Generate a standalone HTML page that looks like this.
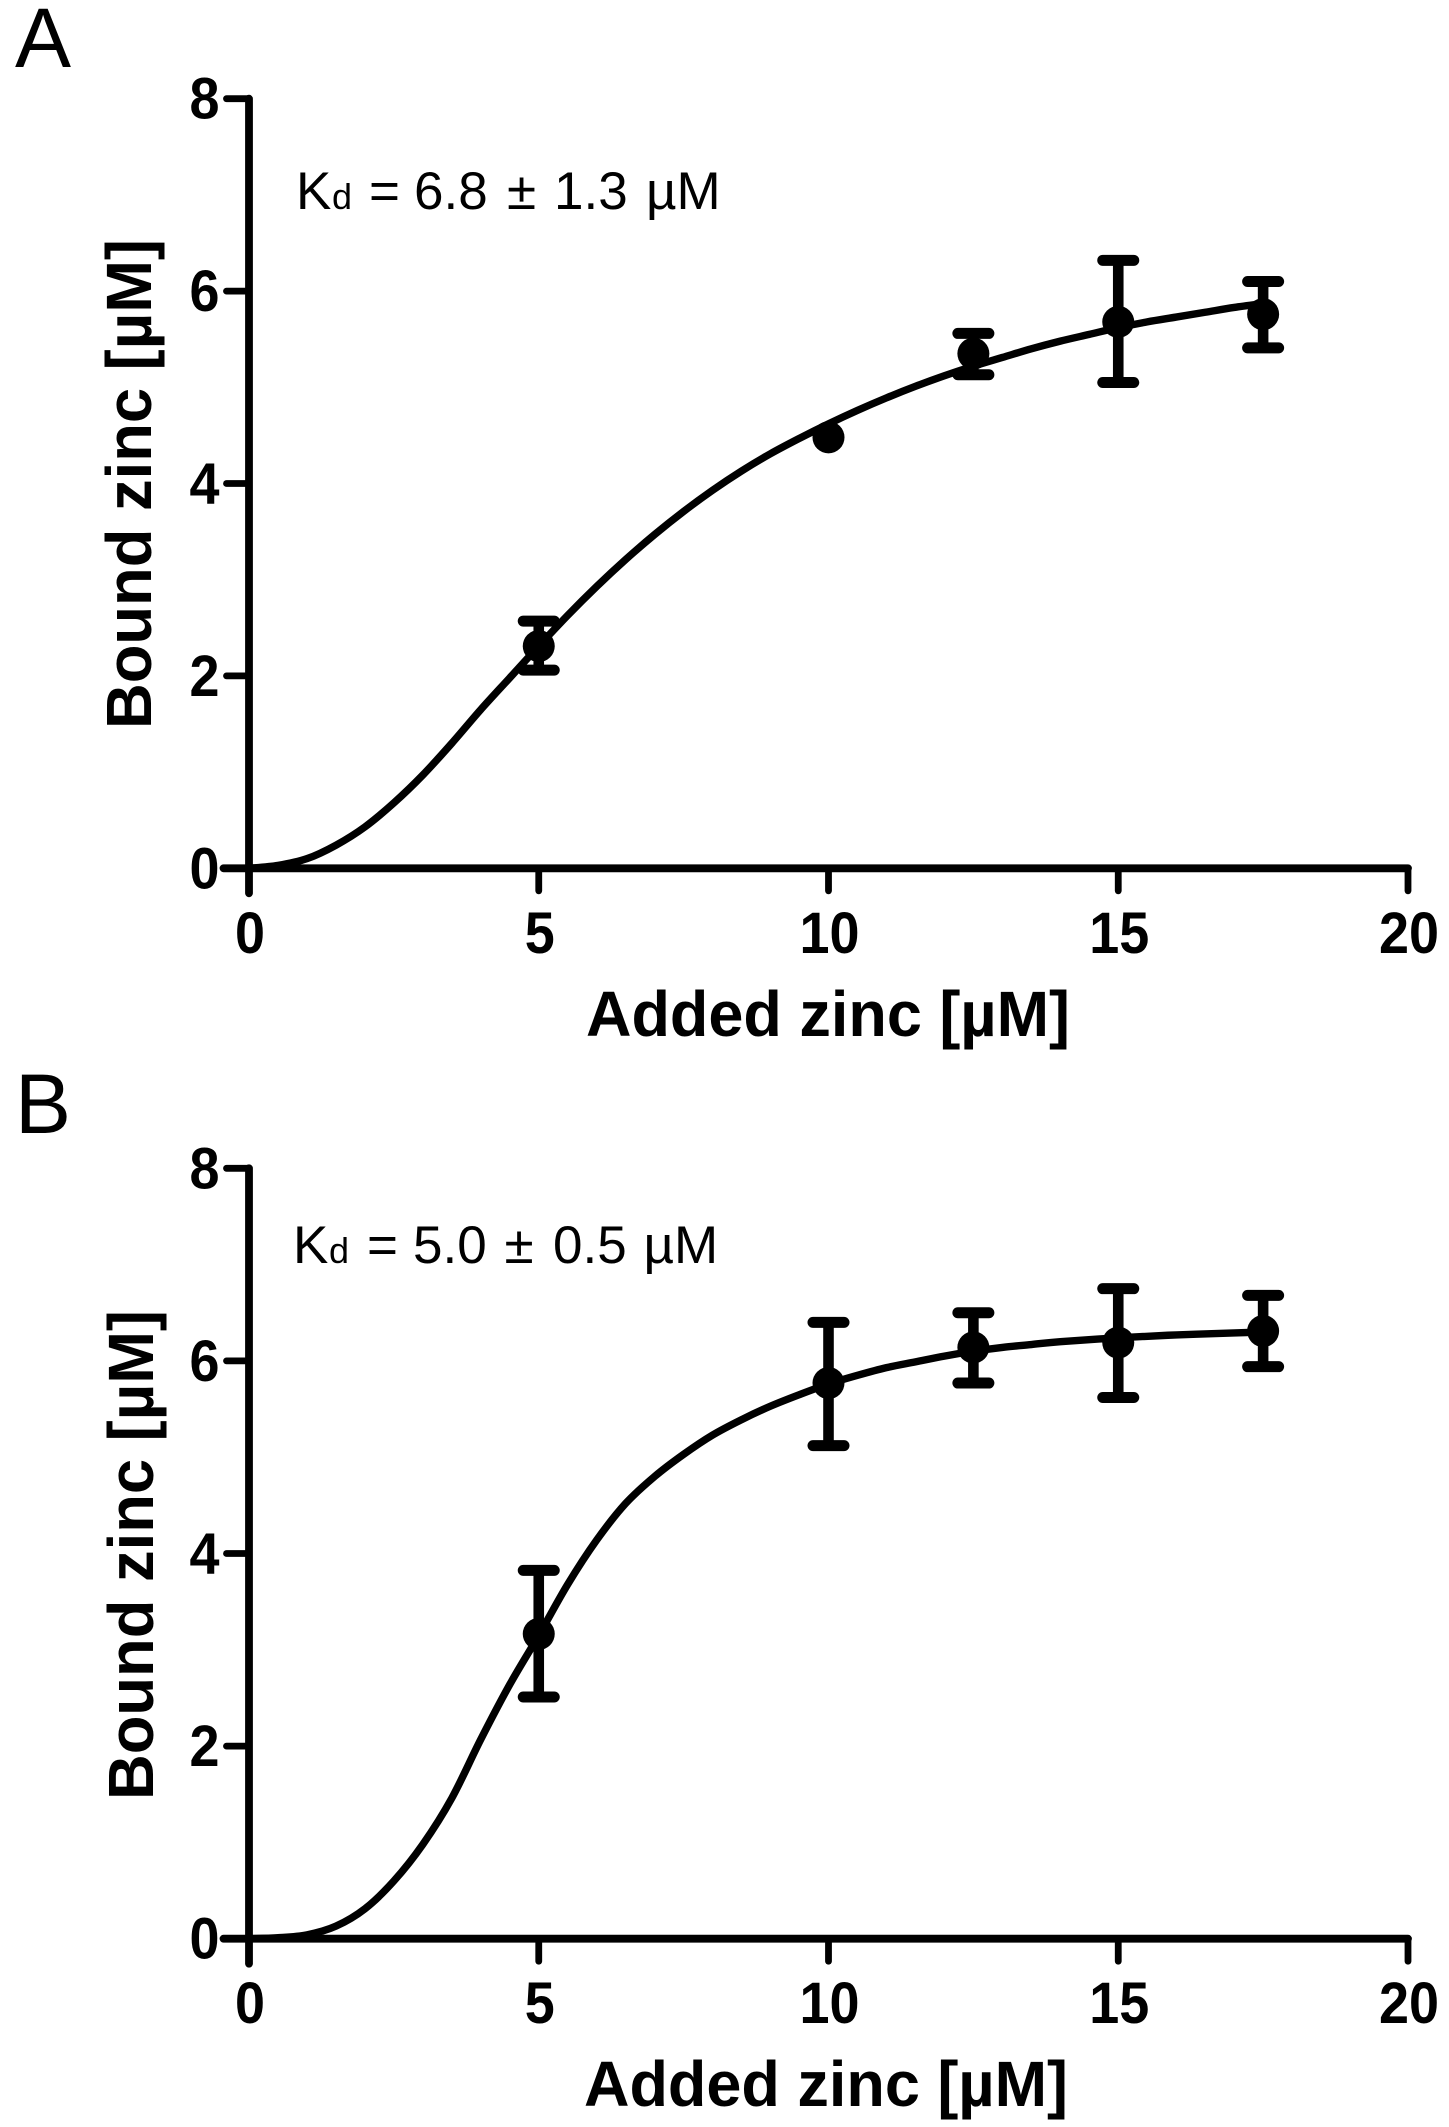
<!DOCTYPE html>
<html lang="en">
<head>
<meta charset="utf-8">
<title>Bound zinc vs added zinc</title>
<style>
html,body{margin:0;padding:0;background:#fff;}
svg{display:block;}
text{font-family:"Liberation Sans",Arial,sans-serif;fill:#000;}
.bold{font-weight:700;}
</style>
</head>
<body>
<svg id="chart" xmlns="http://www.w3.org/2000/svg" width="1449" height="2127" viewBox="0 0 1449 2127">
  <rect x="0" y="0" width="1449" height="2127" fill="#fff"/>

  <text x="15" y="67" font-size="84">A</text>
  <text x="15" y="1133" font-size="84">B</text>

  <text y="209" font-size="53"><tspan x="296">K</tspan><tspan x="332" font-size="36">d</tspan><tspan x="369">=</tspan><tspan x="414">6.8</tspan><tspan x="507">±</tspan><tspan x="554">1.3</tspan><tspan x="646">µM</tspan></text>
  <text y="1263" font-size="53"><tspan x="293">K</tspan><tspan x="329" font-size="36">d</tspan><tspan x="367">=</tspan><tspan x="413">5.0</tspan><tspan x="504.5">±</tspan><tspan x="553">0.5</tspan><tspan x="643.5">µM</tspan></text>

  <text class="bold" x="586" y="1036" font-size="64" textLength="484" lengthAdjust="spacingAndGlyphs">Added zinc [µM]</text>
  <text class="bold" x="584" y="2106" font-size="64" textLength="484" lengthAdjust="spacingAndGlyphs">Added zinc [µM]</text>

  <text class="bold" transform="translate(151 729) rotate(-90)" font-size="64" textLength="490" lengthAdjust="spacingAndGlyphs">Bound zinc [µM]</text>
  <text class="bold" transform="translate(153 1800) rotate(-90)" font-size="64" textLength="490" lengthAdjust="spacingAndGlyphs">Bound zinc [µM]</text>

  <g id="panel-a"></g>
  <g id="panel-b"></g>
</svg>

<script>
// Axis tick values and labels
const xTickValues = [0, 5, 10, 15, 20];
const xTickLabels = ["0", "5", "10", "15", "20"];
const yTickValues = [0, 2, 4, 6, 8];
const yTickLabels = ["0", "2", "4", "6", "8"];

// Panel A measurements
const panelAPointX = [5, 10, 12.5, 15, 17.5];
const panelAPointY = [2.31, 4.48, 5.35, 5.68, 5.76];
const panelAErrHigh = [2.57, 4.48, 5.56, 6.32, 6.10];
const panelAErrLow = [2.06, 4.48, 5.13, 5.05, 5.41];

// Panel A fitted curve
const panelACurveX = [0, 0.5, 1, 1.5, 2, 2.5, 3, 3.5, 4, 4.5, 5, 5.5, 6, 6.5, 7, 7.5, 8, 8.5, 9, 9.5, 10, 10.5, 11, 11.5, 12, 12.5, 13, 13.5, 14, 14.5, 15, 15.5, 16, 16.5, 17, 17.5];
const panelACurveY = [0, 0.03, 0.10, 0.24, 0.43, 0.68, 0.97, 1.30, 1.65, 1.98, 2.31, 2.63, 2.93, 3.21, 3.47, 3.71, 3.93, 4.13, 4.31, 4.47, 4.62, 4.76, 4.89, 5.01, 5.12, 5.22, 5.31, 5.40, 5.48, 5.55, 5.62, 5.68, 5.73, 5.78, 5.83, 5.87];

// Panel B measurements
const panelBPointX = [5, 10, 12.5, 15, 17.5];
const panelBPointY = [3.165, 5.77, 6.14, 6.19, 6.31];
const panelBErrHigh = [3.825, 6.40, 6.50, 6.75, 6.68];
const panelBErrLow = [2.51, 5.12, 5.77, 5.62, 5.94];

// Panel B fitted curve
const panelBCurveX = [0, 0.5, 1, 1.5, 2, 2.5, 3, 3.5, 4, 4.5, 5, 5.5, 6, 6.5, 7, 7.5, 8, 8.5, 9, 9.5, 10, 10.5, 11, 11.5, 12, 12.5, 13, 13.5, 14, 15, 16, 17, 17.5];
const panelBCurveY = [0, 0.01, 0.04, 0.13, 0.31, 0.60, 0.98, 1.46, 2.07, 2.64, 3.15, 3.68, 4.14, 4.52, 4.80, 5.03, 5.23, 5.39, 5.53, 5.65, 5.76, 5.85, 5.93, 5.99, 6.05, 6.10, 6.14, 6.17, 6.20, 6.24, 6.27, 6.29, 6.30];

const NS = "http://www.w3.org/2000/svg";
const xLeft = 249, xRight = 1408, xMax = 20;
const yMax = 8;

function xScale(v) { return xLeft + (v / xMax) * (xRight - xLeft); }
function yScale(v, top, bottom) { return bottom - (v / yMax) * (bottom - top); }

function svgEl(tag, parent, attrs) {
  const el = document.createElementNS(NS, tag);
  for (const k in attrs) el.setAttribute(k, attrs[k]);
  parent.appendChild(el);
  return el;
}

function smoothPath(xs, ys) {
  let d = "M" + xs[0].toFixed(2) + " " + ys[0].toFixed(2);
  for (let i = 0; i < xs.length - 1; i++) {
    const x0 = xs[Math.max(i - 1, 0)], y0 = ys[Math.max(i - 1, 0)];
    const x1 = xs[i], y1 = ys[i], x2 = xs[i + 1], y2 = ys[i + 1];
    const x3 = xs[Math.min(i + 2, xs.length - 1)], y3 = ys[Math.min(i + 2, ys.length - 1)];
    d += " C" + (x1 + (x2 - x0) / 6).toFixed(2) + " " + (y1 + (y2 - y0) / 6).toFixed(2) +
         " " + (x2 - (x3 - x1) / 6).toFixed(2) + " " + (y2 - (y3 - y1) / 6).toFixed(2) +
         " " + x2.toFixed(2) + " " + y2.toFixed(2);
  }
  return d;
}

function drawPanel(group, top, bottom, px, py, hi, lo, cx, cy) {
  const Y = function (v) { return yScale(v, top, bottom); };
  const line = { stroke: "#000", "stroke-linecap": "round", fill: "none" };

  // y axis line
  const yAxis = svgEl("line", group, Object.assign({ x1: xScale(0), x2: xScale(0), y1: Y(yMax), y2: bottom + 25, "stroke-width": 7.8 }, line));
  
  

  // x axis line
  const xAxis = svgEl("line", group, Object.assign({ x1: xLeft - 25.5, x2: xScale(xMax), y1: bottom, y2: bottom, "stroke-width": 7.8 }, line));
  
  

  yTickValues.forEach(function (v, i) {
    const t = svgEl("line", group, Object.assign({ x1: xLeft - 22.5, x2: xLeft, y1: Y(v), y2: Y(v), "stroke-width": 6.8 }, line));
    
    
    const lab = svgEl("text", group, { x: 219.5, y: Y(v) + 20, "font-size": 58, "font-weight": 700, "text-anchor": "end", textLength: yTickLabels[i].length * 30, lengthAdjust: "spacingAndGlyphs" });
    
    
    lab.textContent = yTickLabels[i];
  });

  xTickValues.forEach(function (v, i) {
    const t = svgEl("line", group, Object.assign({ x1: xScale(v), x2: xScale(v), y1: bottom, y2: bottom + 22.5, "stroke-width": 6.8 }, line));
    
    
    const lab = svgEl("text", group, { x: xScale(v) + 1, y: bottom + 84.5, "font-size": 58, "font-weight": 700, "text-anchor": "middle", textLength: xTickLabels[i].length * 30, lengthAdjust: "spacingAndGlyphs" });
    
    
    lab.textContent = xTickLabels[i];
  });

  // fitted curve
  const curve = svgEl("path", group, {
    d: smoothPath(cx.map(xScale), cy.map(Y)),
    fill: "none", stroke: "#000", "stroke-width": 7.4, "stroke-linejoin": "round", "stroke-linecap": "round"
  });
  
  

  // error bars and points
  px.forEach(function (v, i) {
    const x = xScale(v);
    if (hi[i] !== lo[i]) {
      const stem = svgEl("line", group, { x1: x, x2: x, y1: Y(hi[i]), y2: Y(lo[i]), stroke: "#000", "stroke-width": 10.6 });
      
      
      const capHigh = svgEl("line", group, Object.assign({ x1: x - 15.5, x2: x + 15.5, y1: Y(hi[i]), y2: Y(hi[i]), "stroke-width": 11 }, line));
      
      
      const capLow = svgEl("line", group, Object.assign({ x1: x - 15.5, x2: x + 15.5, y1: Y(lo[i]), y2: Y(lo[i]), "stroke-width": 11 }, line));
      
      
    }
    const dot = svgEl("circle", group, { cx: x, cy: Y(py[i]), r: 16, fill: "#000" });
    
    
  });
}

drawPanel(document.getElementById("panel-a"), 98.7, 868.3, panelAPointX, panelAPointY, panelAErrHigh, panelAErrLow, panelACurveX, panelACurveY);
drawPanel(document.getElementById("panel-b"), 1168.3, 1938.7, panelBPointX, panelBPointY, panelBErrHigh, panelBErrLow, panelBCurveX, panelBCurveY);
</script>
</body>
</html>
